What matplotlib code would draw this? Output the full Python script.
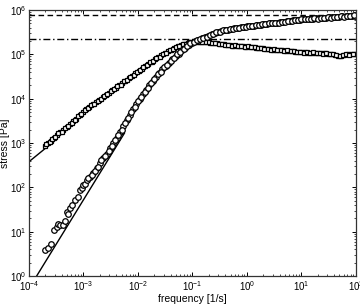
import numpy as np
import matplotlib
matplotlib.use("Agg")
import matplotlib.pyplot as plt
from matplotlib.ticker import LogLocator, NullFormatter

plt.rcParams['font.family'] = ['Liberation Sans', 'DejaVu Sans']
plt.rcParams['mathtext.fontset'] = 'custom'
plt.rcParams['mathtext.rm'] = 'Liberation Sans'

# squares (loss stress), log10 values
log_freq_sq = [-3.71, -3.65, -3.60, -3.55, -3.49, -3.43, -3.37, -3.31, -3.25, -3.19,
               -3.13, -3.07, -3.01, -2.95, -2.89, -2.83, -2.77, -2.71, -2.65, -2.59,
               -2.53, -2.47, -2.41, -2.35, -2.29, -2.23, -2.17, -2.11, -2.05, -1.99,
               -1.93, -1.87, -1.81, -1.75, -1.69, -1.63, -1.57, -1.51, -1.45, -1.39,
               -1.33, -1.27, -1.21, -1.15, -1.09, -1.03, -0.97, -0.91, -0.85, -0.79,
               -0.73, -0.67, -0.61, -0.55, -0.49, -0.43, -0.37, -0.31, -0.25, -0.19,
               -0.13, -0.07, -0.01, 0.05, 0.11, 0.17, 0.23, 0.29, 0.35, 0.41,
               0.47, 0.53, 0.59, 0.65, 0.71, 0.77, 0.83, 0.89, 0.95, 1.01,
               1.07, 1.13, 1.19, 1.25, 1.31, 1.37, 1.43, 1.49, 1.55, 1.61,
               1.67, 1.73, 1.79, 1.85, 1.91, 1.97, 2.00]
log_stress_sq = [2.94, 3.00, 3.05, 3.12, 3.18, 3.24, 3.30, 3.37, 3.42, 3.49,
                 3.55, 3.63, 3.70, 3.76, 3.82, 3.87, 3.93, 3.98, 4.03, 4.09,
                 4.14, 4.19, 4.25, 4.30, 4.35, 4.41, 4.46, 4.52, 4.57, 4.63,
                 4.68, 4.73, 4.79, 4.84, 4.89, 4.94, 4.98, 5.03, 5.07, 5.11,
                 5.15, 5.18, 5.21, 5.24, 5.26, 5.28, 5.29, 5.29, 5.28, 5.28,
                 5.27, 5.26, 5.25, 5.25, 5.24, 5.23, 5.22, 5.21, 5.20, 5.20,
                 5.19, 5.18, 5.17, 5.17, 5.16, 5.15, 5.14, 5.14, 5.13, 5.12,
                 5.11, 5.11, 5.10, 5.09, 5.08, 5.08, 5.07, 5.06, 5.06, 5.05,
                 5.05, 5.04, 5.04, 5.04, 5.03, 5.03, 5.03, 5.02, 5.02, 4.99,
                 4.97, 4.97, 4.99, 5.00, 5.00, 5.01, 5.01]
# interleaved square measurements
log_freq_sq_b = [-3.68, -3.62, -3.57, -3.52, -3.46, -3.40, -3.34, -3.28, -3.22, -3.16,
                 -3.10, -3.04, -2.98, -2.92, -2.86, -2.80, -2.74, -2.68, -2.62, -2.56,
                 -2.50, -2.44, -2.38, -2.32, -2.26, -2.20, -2.14, -2.08, -2.02, -1.96,
                 -1.90, -1.84, -1.78, -1.72, -1.66, -1.60, -1.54, -1.48, -1.42, -1.36,
                 -1.30, -1.24, -1.18, -1.12, -1.06, -1.00, -0.94, -0.88, -0.82, -0.76,
                 -0.70, -0.64, -0.58, -0.52, -0.46, -0.40, -0.34, -0.28, -0.22, -0.16,
                 -0.10, -0.04, 0.02, 0.08, 0.14, 0.20, 0.26, 0.32, 0.38, 0.44,
                 0.50, 0.56, 0.62, 0.68, 0.74, 0.80, 0.86, 0.92, 0.98, 1.04,
                 1.10, 1.16, 1.22, 1.28, 1.34, 1.40, 1.46, 1.52, 1.58, 1.64,
                 1.70, 1.76, 1.82, 1.88, 1.94]
log_stress_sq_b = [2.98, 3.02, 3.09, 3.14, 3.22, 3.26, 3.34, 3.39, 3.46, 3.51,
                   3.60, 3.66, 3.74, 3.78, 3.86, 3.89, 3.96, 4.00, 4.07, 4.11,
                   4.17, 4.21, 4.29, 4.32, 4.39, 4.43, 4.50, 4.54, 4.61, 4.65,
                   4.72, 4.75, 4.82, 4.86, 4.92, 4.95, 5.01, 5.04, 5.10, 5.12,
                   5.17, 5.19, 5.23, 5.24, 5.28, 5.28, 5.30, 5.28, 5.29, 5.27,
                   5.27, 5.25, 5.26, 5.24, 5.24, 5.22, 5.22, 5.20, 5.21, 5.19,
                   5.19, 5.17, 5.18, 5.16, 5.16, 5.14, 5.15, 5.13, 5.13, 5.11,
                   5.12, 5.10, 5.10, 5.08, 5.09, 5.07, 5.07, 5.05, 5.06, 5.04,
                   5.05, 5.03, 5.05, 5.03, 5.04, 5.02, 5.03, 5.01, 5.01, 4.98,
                   4.96, 4.98, 5.00, 4.99, 5.01]

# circles (storage stress), log10 values
log_freq_ci = [-3.71, -3.66, -3.60, -3.54, -3.49, -3.46, -3.43, -3.38, -3.34, -3.31,
               -3.28, -3.25, -3.22, -3.16, -3.10, -3.06, -3.03, -3.00, -2.97, -2.94,
               -2.88, -2.82, -2.76, -2.70, -2.64, -2.57, -2.51, -2.45, -2.39, -2.33,
               -2.27, -2.21, -2.15, -2.09, -2.03, -1.97, -1.91, -1.85, -1.79, -1.73,
               -1.67, -1.61, -1.55, -1.49, -1.43, -1.37, -1.31, -1.25, -1.19, -1.13,
               -1.07, -1.01, -0.95, -0.89, -0.83, -0.77, -0.71, -0.65, -0.59, -0.53,
               -0.47, -0.41, -0.35, -0.29, -0.23, -0.17, -0.11, -0.05, 0.01, 0.07,
               0.13, 0.19, 0.25, 0.31, 0.37, 0.43, 0.49, 0.55, 0.61, 0.67,
               0.73, 0.79, 0.85, 0.91, 0.97, 1.03, 1.09, 1.15, 1.21, 1.27,
               1.33, 1.39, 1.45, 1.51, 1.57, 1.63, 1.69, 1.75, 1.81, 1.87,
               1.93, 1.99]
log_stress_ci = [0.59, 0.63, 0.72, 1.04, 1.11, 1.18, 1.15, 1.15, 1.23, 1.45,
                 1.40, 1.53, 1.60, 1.71, 1.79, 1.94, 1.98, 2.05, 2.08, 2.17,
                 2.24, 2.32, 2.43, 2.54, 2.66, 2.76, 2.88, 3.00, 3.12, 3.24,
                 3.38, 3.52, 3.64, 3.76, 3.88, 4.00, 4.10, 4.20, 4.30, 4.40,
                 4.50, 4.58, 4.66, 4.73, 4.81, 4.89, 4.96, 5.02, 5.09, 5.15,
                 5.22, 5.26, 5.30, 5.33, 5.36, 5.39, 5.42, 5.45, 5.48, 5.50,
                 5.52, 5.54, 5.56, 5.57, 5.59, 5.60, 5.61, 5.62, 5.63, 5.64,
                 5.65, 5.66, 5.67, 5.68, 5.69, 5.70, 5.71, 5.72, 5.73, 5.74,
                 5.75, 5.76, 5.77, 5.78, 5.78, 5.79, 5.80, 5.80, 5.81, 5.82,
                 5.82, 5.83, 5.83, 5.84, 5.84, 5.85, 5.85, 5.86, 5.86, 5.86,
                 5.87, 5.87]
# interleaved circle measurements
log_freq_ci_b = [-2.91, -2.85, -2.79, -2.73, -2.67, -2.61, -2.54, -2.48, -2.42, -2.36,
                 -2.30, -2.24, -2.18, -2.12, -2.06, -2.00, -1.94, -1.88, -1.82, -1.76,
                 -1.70, -1.64, -1.58, -1.52, -1.46, -1.40, -1.34, -1.28, -1.22, -1.16,
                 -1.10, -1.04, -0.98, -0.92, -0.86, -0.80, -0.74, -0.68, -0.62, -0.56,
                 -0.50, -0.44, -0.38, -0.32, -0.26, -0.20, -0.14, -0.08, -0.02, 0.04,
                 0.10, 0.16, 0.22, 0.28, 0.34, 0.40, 0.46, 0.52, 0.58, 0.64,
                 0.70, 0.76, 0.82, 0.88, 0.94, 1.00, 1.06, 1.12, 1.18, 1.24,
                 1.30, 1.36, 1.42, 1.48, 1.54, 1.60, 1.66, 1.72, 1.78, 1.84,
                 1.90, 1.96]
log_stress_ci_b = [2.22, 2.27, 2.38, 2.47, 2.62, 2.70, 2.83, 2.93, 3.06, 3.19,
                   3.30, 3.46, 3.57, 3.71, 3.81, 3.95, 4.04, 4.16, 4.24, 4.36,
                   4.44, 4.55, 4.61, 4.71, 4.76, 4.86, 4.92, 5.00, 5.05, 5.13,
                   5.18, 5.25, 5.27, 5.32, 5.34, 5.38, 5.40, 5.44, 5.46, 5.50,
                   5.51, 5.54, 5.55, 5.57, 5.57, 5.60, 5.60, 5.62, 5.62, 5.64,
                   5.64, 5.66, 5.66, 5.68, 5.68, 5.70, 5.70, 5.72, 5.72, 5.74,
                   5.74, 5.76, 5.76, 5.78, 5.77, 5.79, 5.79, 5.81, 5.80, 5.82,
                   5.81, 5.83, 5.82, 5.84, 5.83, 5.85, 5.84, 5.86, 5.85, 5.87,
                   5.86, 5.88]

# fit lines (log10 endpoints)
fit1_log_freq = [-4.0, -3.60]
fit1_log_stress = [2.58, 2.98]
fit2_log_freq = [-3.86, -2.25]
fit2_log_stress = [0.0, 3.22]

plateau_dashed = 7.8e5
plateau_dashdot = 2.2e5

fig = plt.figure(figsize=(3.6, 3.06), dpi=100)
ax = fig.add_axes([0.0806, 0.098, 0.908, 0.869])

ax.plot(10 ** np.array(fit1_log_freq), 10 ** np.array(fit1_log_stress), color='black', lw=1.0)
ax.plot(10 ** np.array(fit2_log_freq), 10 ** np.array(fit2_log_stress), color='black', lw=1.0)
ax.axhline(plateau_dashed, color='black', lw=1.0, ls=(0, (4, 2.5)))
ax.axhline(plateau_dashdot, color='black', lw=1.0, ls=(0, (5, 2, 1, 2)))

sq_f = np.concatenate([log_freq_sq, log_freq_sq_b])
sq_s = np.concatenate([log_stress_sq, log_stress_sq_b])
ci_f = np.concatenate([log_freq_ci, log_freq_ci_b])
ci_s = np.concatenate([log_stress_ci, log_stress_ci_b])

ax.plot(10 ** sq_f, 10 ** sq_s, ls='none', marker='s',
        ms=3.2, mfc='white', mec='black', mew=0.9)
ax.plot(10 ** ci_f, 10 ** ci_s, ls='none', marker='o',
        ms=4.0, mfc='white', mec='black', mew=0.9)

ax.set_xscale('log')
ax.set_yscale('log')
ax.set_xlim(1e-4, 1e2)
ax.set_ylim(1e0, 1e6)
ax.xaxis.set_major_locator(LogLocator(base=10, numticks=10))
ax.yaxis.set_major_locator(LogLocator(base=10, numticks=10))
ax.xaxis.set_minor_locator(LogLocator(base=10, subs=np.arange(2, 10), numticks=20))
ax.yaxis.set_minor_locator(LogLocator(base=10, subs=np.arange(2, 10), numticks=20))
ax.xaxis.set_minor_formatter(NullFormatter())
ax.yaxis.set_minor_formatter(NullFormatter())
ax.tick_params(which='both', direction='in', top=True, right=True, labelsize=7, pad=2)
ax.tick_params(which='major', length=3, width=0.7)
ax.tick_params(which='minor', length=1.6, width=0.5)
for s in ax.spines.values():
    s.set_linewidth(0.9)
    s.set_color('#333333')

ax.set_xlabel('frequency [1/s]', fontsize=7.5, labelpad=1)
ax.set_ylabel('stress [Pa]', fontsize=7.5, labelpad=0)

fig.savefig('out.png', dpi=100)
